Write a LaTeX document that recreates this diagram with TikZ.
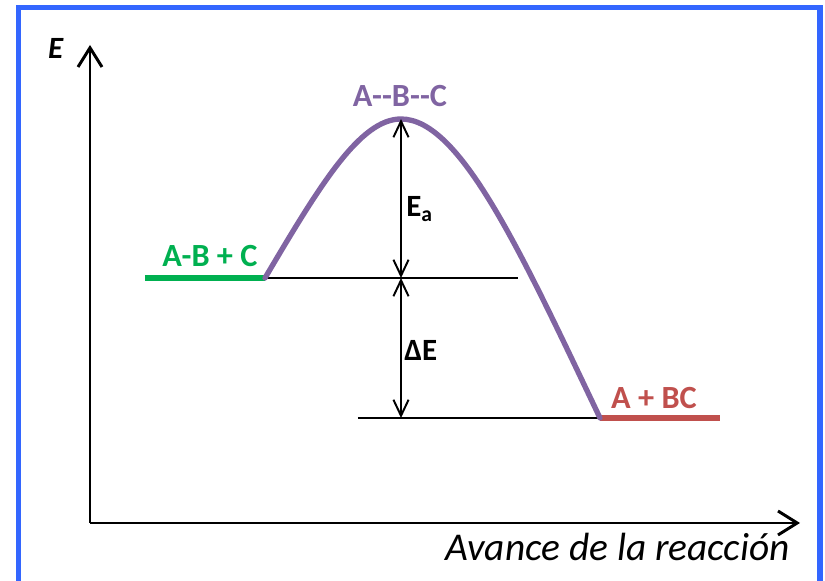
\documentclass[tikz,border=0pt]{standalone}
\usepackage{fontspec}
\setmainfont{Carlito}
\usepackage{tikz}
\usetikzlibrary{positioning, arrows.meta, calc}
\definecolor{RxBlue}{RGB}{51,102,255}
\definecolor{RxGreen}{RGB}{0,176,80}
\definecolor{RxPurple}{RGB}{128,100,162}
\definecolor{RxRed}{RGB}{192,80,77}

\begin{document}
\begin{tikzpicture}[
      axis/.style={line width=2.1pt, -{Straight Barb[length=4.8mm, width=6mm, line width=2.1pt]}},
      guide/.style={line width=1.4pt, black},
      level/.style={line width=3.8pt},
      gap/.style={line width=1.4pt, {Straight Barb[length=4mm, width=3.8mm, line width=1.4pt]}-{Straight Barb[length=4mm, width=3.8mm, line width=1.4pt]}},
      lbl/.style={font=\fontsize{23}{27}\selectfont\bfseries, inner sep=0pt},
      gaplbl/.style={font=\fontsize{22}{26}\selectfont\bfseries, inner sep=0pt, anchor=base west},
      ttl/.style={font=\fontsize{28}{32}\selectfont\itshape, inner sep=0pt}
    ]
    \useasboundingbox (-2.25,-1.45) rectangle (18.375,13.075);

    % Frame (open at the bottom)
    \draw[RxBlue, line width=3.9pt] (-1.7875,-1.6) -- (-1.7875,12.8875)
         -- (18.25,12.8875) -- (18.25,-1.6);

    % Axes
    \coordinate (O) at (0,0);
    \coordinate (ytip) at (0,11.95);
    \coordinate (xtip) at (17.75,0);
    \draw[axis] (O) -- (ytip);
    \draw[axis] (O) -- (xtip);
    \node[font=\fontsize{22}{26}\selectfont\bfseries\itshape, inner sep=0pt, anchor=base]
         (elbl) at (-0.86,11.62) {E};
    \node[ttl, anchor=base east] (xlbl) at (17.5,-0.95) {Avance de la reacción};

    % Levels
    \coordinate (rl) at (1.375,6.125);
    \coordinate (react) at (4.375,6.125);
    \coordinate (rr) at (10.7,6.125);
    \coordinate (ts) at (7.775,10.1);
    \coordinate (prod) at (12.75,2.625);
    \coordinate (pl) at (6.7,2.625);
    \coordinate (pr) at (15.75,2.625);
    \coordinate (tsbase) at (ts |- react);
    \coordinate (pbase) at (ts |- prod);

    \draw[guide] (react) -- (rr);
    \draw[guide] (pl) -- (prod);
    \draw[level, RxGreen] (rl) -- (react);
    \draw[level, RxRed] (prod) -- (pr);

    % Reaction path
    \draw[level, RxPurple, line cap=round]
         (react) .. controls (5.75,8.45) and (6.75,10.1) .. (ts)
                 .. controls (9.25,10.1) and (10.75,6.825) .. (prod);

    % Energy gaps
    \draw[gap] (ts) -- (tsbase);
    \draw[gap] (tsbase) -- (pbase);

    % Labels
    \node[lbl, RxGreen, anchor=base] (rlbl) at (3.0,6.42) {A-B + C};
    \node[lbl, RxPurple, anchor=base] (tslbl) at (7.75,10.42) {A-{}-B-{}-C};
    \node[lbl, RxRed, anchor=base] (plbl) at (14.1,2.85) {A + BC};
    \node[gaplbl] (ealbl) at (7.9,7.65) {E$_{\mathbf{a}}$};
    \node[gaplbl] (delbl) at (7.85,4.05) {ΔE};
  \end{tikzpicture}
\end{document}
